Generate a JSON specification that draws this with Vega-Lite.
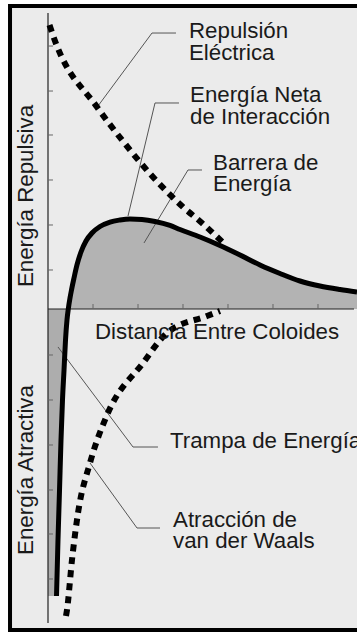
{
  "$schema": "https://vega.github.io/schema/vega-lite/v6.json",
  "width": 357,
  "height": 632,
  "autosize": {"type": "none"},
  "padding": 0,
  "background": "#ffffff",
  "config": {"view": {"stroke": null}, "text": {"font": "Liberation Sans"}},
  "datasets": {
    "frame": [{"x": -0.844, "x2": 8, "y": 6.733, "y2": -7.133}],
    "net": [
      {"x": 0.189, "y": -6.378}, {"x": 0.222, "y": -5.133}, {"x": 0.256, "y": -4.022},
      {"x": 0.289, "y": -2.911}, {"x": 0.322, "y": -2.022}, {"x": 0.356, "y": -1.356},
      {"x": 0.389, "y": -0.689}, {"x": 0.422, "y": -0.244}, {"x": 0.451, "y": 0},
      {"x": 0.489, "y": 0.244}, {"x": 0.522, "y": 0.422}, {"x": 0.578, "y": 0.689},
      {"x": 0.644, "y": 0.978}, {"x": 0.733, "y": 1.267}, {"x": 0.844, "y": 1.511},
      {"x": 0.978, "y": 1.689}, {"x": 1.156, "y": 1.833}, {"x": 1.378, "y": 1.933},
      {"x": 1.6, "y": 1.978}, {"x": 1.822, "y": 2.0}, {"x": 2.089, "y": 1.989},
      {"x": 2.378, "y": 1.944}, {"x": 2.711, "y": 1.856}, {"x": 2.933, "y": 1.767},
      {"x": 3.378, "y": 1.6}, {"x": 3.822, "y": 1.411}, {"x": 4.267, "y": 1.2},
      {"x": 4.711, "y": 0.978}, {"x": 5.156, "y": 0.789}, {"x": 5.6, "y": 0.622},
      {"x": 6.044, "y": 0.511}, {"x": 6.489, "y": 0.433}, {"x": 6.867, "y": 0.378}
    ],
    "rep": [
      {"x": 0.033, "y": 6.311}, {"x": 0.156, "y": 5.956}, {"x": 1.089, "y": 4.489},
      {"x": 1.644, "y": 3.756}, {"x": 2.333, "y": 2.933}, {"x": 3.0, "y": 2.267},
      {"x": 3.422, "y": 1.911}, {"x": 3.889, "y": 1.478}
    ],
    "att": [
      {"x": 3.822, "y": -0.044}, {"x": 3.533, "y": -0.156}, {"x": 2.644, "y": -0.533},
      {"x": 2.111, "y": -1.2}, {"x": 1.311, "y": -2.356}, {"x": 0.933, "y": -3.422},
      {"x": 0.667, "y": -4.533}, {"x": 0.533, "y": -5.578}, {"x": 0.422, "y": -6.689},
      {"x": 0.4, "y": -6.822}
    ],
    "axislines": [
      {"x": 0, "x2": 0, "y": 6.578, "y2": -6.978},
      {"x": 0, "x2": 6.8, "y": 0, "y2": 0}
    ],
    "ticks": [
      {"x": 0, "x2": 0.111, "y": 5.844, "y2": 5.844},
      {"x": 0, "x2": 0.111, "y": 4.844, "y2": 4.844},
      {"x": 0, "x2": 0.111, "y": 3.867, "y2": 3.867},
      {"x": 0, "x2": 0.111, "y": 2.867, "y2": 2.867},
      {"x": 0, "x2": 0.111, "y": 1.867, "y2": 1.867},
      {"x": 0, "x2": 0.111, "y": 0.867, "y2": 0.867},
      {"x": 0, "x2": 0.111, "y": -1.022, "y2": -1.022},
      {"x": 0, "x2": 0.111, "y": -2.022, "y2": -2.022},
      {"x": 0, "x2": 0.111, "y": -3.022, "y2": -3.022},
      {"x": 0, "x2": 0.111, "y": -4.022, "y2": -4.022},
      {"x": 0, "x2": 0.111, "y": -5.0, "y2": -5.0},
      {"x": 0, "x2": 0.111, "y": -6.0, "y2": -6.0},
      {"x": 1, "x2": 1, "y": 0, "y2": 0.111},
      {"x": 2, "x2": 2, "y": 0, "y2": 0.111},
      {"x": 3, "x2": 3, "y": 0, "y2": 0.111},
      {"x": 4, "x2": 4, "y": 0, "y2": 0.111},
      {"x": 5, "x2": 5, "y": 0, "y2": 0.111},
      {"x": 6, "x2": 6, "y": 0, "y2": 0.111}
    ],
    "leaders": [
      {"g": "rep", "o": 1, "x": 1.111, "y": 4.511}, {"g": "rep", "o": 2, "x": 2.311, "y": 6.133}, {"g": "rep", "o": 3, "x": 2.844, "y": 6.133},
      {"g": "net", "o": 1, "x": 1.778, "y": 2.067}, {"g": "net", "o": 2, "x": 2.378, "y": 4.578}, {"g": "net", "o": 3, "x": 2.911, "y": 4.578},
      {"g": "bar", "o": 1, "x": 2.133, "y": 1.467}, {"g": "bar", "o": 2, "x": 3.111, "y": 3.089}, {"g": "bar", "o": 3, "x": 3.422, "y": 3.089},
      {"g": "trap", "o": 1, "x": 0.222, "y": -0.844}, {"g": "trap", "o": 2, "x": 1.889, "y": -3.067}, {"g": "trap", "o": 3, "x": 2.444, "y": -3.067},
      {"g": "att", "o": 1, "x": 0.933, "y": -3.422}, {"g": "att", "o": 2, "x": 1.978, "y": -4.867}, {"g": "att", "o": 3, "x": 2.489, "y": -4.867}
    ],
    "labels": [
      {"t": "Repulsión\nEléctrica", "x": 3.133, "y": 6.022},
      {"t": "Energía Neta\nde Interacción", "x": 3.156, "y": 4.6},
      {"t": "Barrera de\nEnergía", "x": 3.667, "y": 3.089},
      {"t": "Distancia Entre Coloides", "x": 1.044, "y": -0.656},
      {"t": "Trampa de Energía", "x": 2.711, "y": -3.089},
      {"t": "Atracción de\nvan der Waals", "x": 2.778, "y": -4.844}
    ],
    "titles": [
      {"t": "Energía Repulsiva", "x": -0.333, "y": 2.511},
      {"t": "Energía Atractiva", "x": -0.333, "y": -3.578}
    ]
  },
  "encoding": {
    "x": {"field": "x", "type": "quantitative", "scale": {"domain": [-1.0667, 6.8667], "nice": false, "zero": false}, "axis": null},
    "y": {"field": "y", "type": "quantitative", "scale": {"domain": [-7.1778, 6.8667], "nice": false, "zero": false}, "axis": null}
  },
  "layer": [
    {
      "data": {"name": "frame"},
      "mark": {"type": "rect", "fill": "#ebebeb", "stroke": "#000000", "strokeWidth": 4, "clip": true},
      "encoding": {"x2": {"field": "x2"}, "y2": {"field": "y2"}}
    },
    {
      "data": {"name": "net"},
      "transform": [{"filter": "datum.y >= 0"}],
      "mark": {"type": "area", "orient": "vertical", "interpolate": "monotone", "color": "#b3b3b3"},
      "encoding": {"y2": {"datum": 0}}
    },
    {
      "data": {"name": "net"},
      "transform": [{"filter": "datum.y <= 0"}],
      "mark": {"type": "area", "orient": "horizontal", "interpolate": "monotone", "color": "#adadad"},
      "encoding": {"x2": {"datum": 0}}
    },
    {
      "data": {"name": "axislines"},
      "mark": {"type": "rule", "color": "#222222", "strokeWidth": 1.2},
      "encoding": {"x2": {"field": "x2"}, "y2": {"field": "y2"}}
    },
    {
      "data": {"name": "ticks"},
      "mark": {"type": "rule", "color": "#666666", "strokeWidth": 1},
      "encoding": {"x2": {"field": "x2"}, "y2": {"field": "y2"}}
    },
    {
      "data": {"name": "leaders"},
      "mark": {"type": "line", "color": "#555555", "strokeWidth": 1},
      "encoding": {"detail": {"field": "g"}, "order": {"field": "o"}}
    },
    {
      "data": {"name": "rep"},
      "mark": {"type": "line", "color": "#000000", "strokeWidth": 6, "strokeDash": [7, 6], "interpolate": "monotone"},
      "encoding": {}
    },
    {
      "data": {"name": "att"},
      "mark": {"type": "line", "color": "#000000", "strokeWidth": 6, "strokeDash": [7, 6], "interpolate": "monotone"},
      "encoding": {}
    },
    {
      "data": {"name": "net"},
      "mark": {"type": "line", "color": "#000000", "strokeWidth": 5, "strokeCap": "butt", "interpolate": "monotone"},
      "encoding": {}
    },
    {
      "data": {"name": "labels"},
      "mark": {"type": "text", "align": "left", "baseline": "alphabetic", "fontSize": 22.3, "lineHeight": 21.5, "lineBreak": "\n", "color": "#1a1a1a"},
      "encoding": {"text": {"field": "t"}}
    },
    {
      "data": {"name": "titles"},
      "mark": {"type": "text", "align": "center", "baseline": "alphabetic", "angle": 270, "fontSize": 22.3, "color": "#1a1a1a"},
      "encoding": {"text": {"field": "t"}}
    }
  ]
}
